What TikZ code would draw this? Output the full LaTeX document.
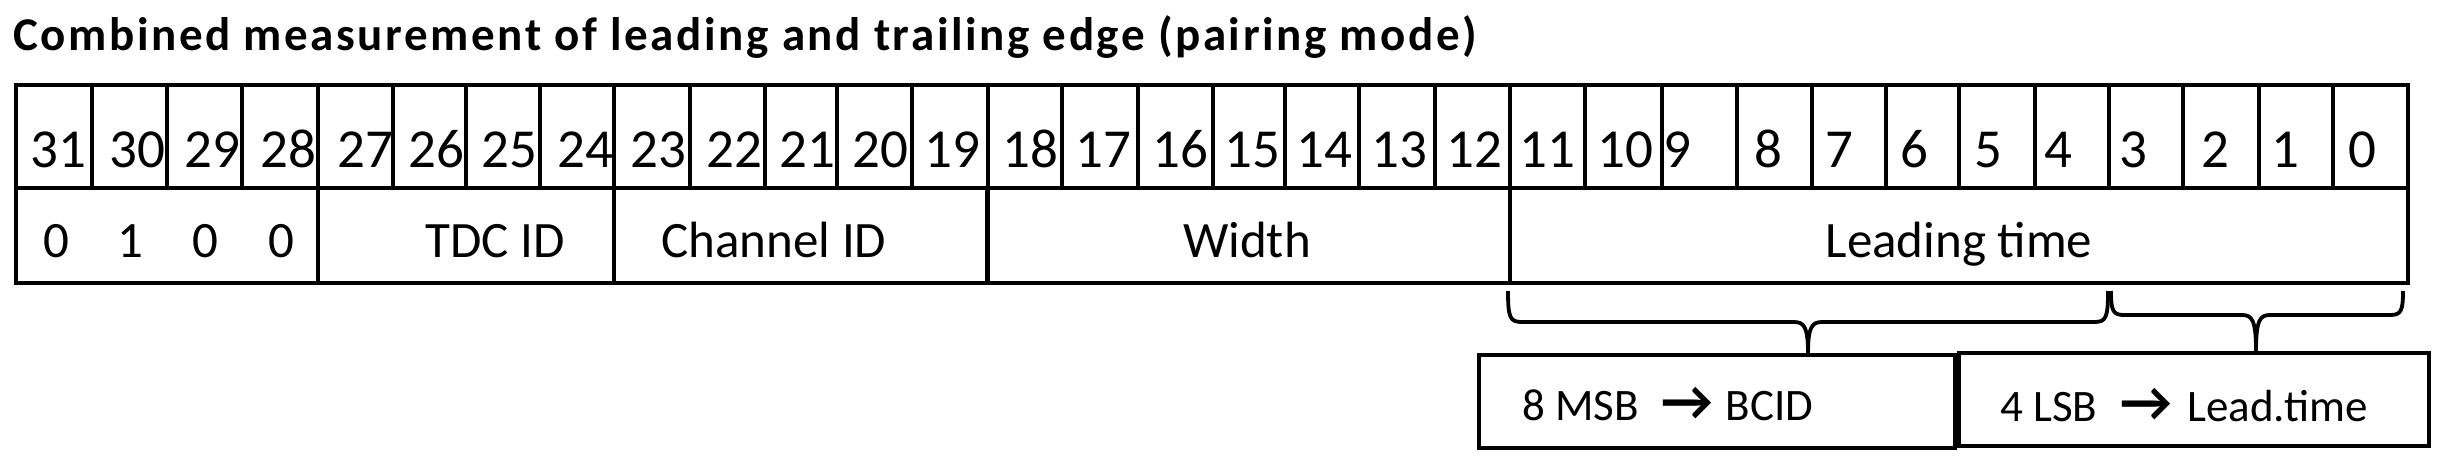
\documentclass[tikz,border=0pt]{standalone}
\usepackage{fontspec}
\setmainfont{Carlito}
\newfontfamily\titlefont[LetterSpace=5.5]{Carlito}
\newcommand{\arw}{{\fontsize{57}{60}\selectfont\bfseries →}}
\begin{document}
\begin{tikzpicture}[x=1pt,y=-1pt,
  cellbox/.style={draw, line width=4.5pt, inner sep=0pt, outer sep=0pt, minimum height=103pt},
  fieldbox/.style={draw, line width=4.5pt, inner sep=0pt, outer sep=0pt, minimum height=95pt},
  numtxt/.style={inner sep=0pt, anchor=base west, font=\fontsize{55}{60}\selectfont},
  fieldtxt/.style={inner sep=0pt, anchor=base, font=\fontsize{51}{56}\selectfont},
  boxtxt/.style={inner sep=0pt, anchor=base west, font=\fontsize{45}{50}\selectfont},
  outbox/.style={draw, line width=4.5pt, inner sep=0pt, outer sep=0pt, minimum height=93pt},
  bracepath/.style={draw, line width=3.8pt, line join=round}
]
\useasboundingbox (0,0) rectangle (2450,466);
\node[anchor=base west, inner sep=0pt, font=\titlefont\bfseries\fontsize{47}{52}\selectfont] (title) at (13,50) {Combined measurement of leading and trailing edge (pairing mode)};
% bit cells
\foreach \b/\l/\r/\o in {31/16/92/14, 30/92/167/17, 29/167/242/17, 28/242/318/18,
  27/318/393/19, 26/393/466/15, 25/466/540/15, 24/540/614/17,
  23/614/690/16, 22/690/765/16, 21/765/837/14, 20/837/912/15, 19/912/988/12,
  18/988/1062/14, 17/1062/1138/13, 16/1138/1213/14, 15/1213/1285/11, 14/1285/1359/11,
  13/1359/1435/12, 12/1435/1510/11, 11/1510/1585/9, 10/1585/1662/12, 9/1662/1737/1,
  8/1737/1812/17, 7/1812/1886/13, 6/1886/1959/14, 5/1959/2035/15, 4/2035/2109/9,
  3/2109/2183/10, 2/2183/2259/18, 1/2259/2333/12, 0/2333/2408/15}{
  \node[cellbox, minimum width={(\r-\l)*1pt}] (c\b) at ({(\l+\r)/2},136.5) {};
  \node[numtxt] (n\b) at (\l+\o,167) {\b};
}
% fields
\node[fieldbox, minimum width=302pt] (fA) at (167,235.5) {};
\node[fieldbox, minimum width=296pt] (fB) at (466,235.5) {};
\node[fieldbox, minimum width=373.5pt] (fC) at (800.75,235.5) {};
\node[fieldbox, minimum width=522.5pt] (fD) at (1248.75,235.5) {};
\node[fieldbox, minimum width=898pt] (fE) at (1959,235.5) {};
\node[fieldtxt] (v31) at (56,257) {0};
\node[fieldtxt] (v30) at (130,257) {1};
\node[fieldtxt] (v29) at (205,257) {0};
\node[fieldtxt] (v28) at (281,257) {0};
\node[fieldtxt] (tTDC) at (495,257) {TDC ID};
\node[fieldtxt] (tCh) at (774,257) {Channel ID};
\node[fieldtxt] (tW) at (1247,257) {Width};
\node[fieldtxt] (tL) at (1959,257) {Leading time};
% output boxes
\node[outbox, minimum width=476pt] (msb) at (1717,401.5) {};
\node[outbox, minimum width=470pt] (lsb) at (2194,399.5) {};
\node[boxtxt] (msbt) at (1522,420) {8 MSB\kern12pt\ \arw\ \kern3pt BCID};
\node[boxtxt] (lsbt) at (2000,421) {4 LSB\kern13pt\ \arw\ \kern5pt Lead.time};
% braces
\coordinate (tipL) at (1808,353);
\coordinate (tipR) at (2256,351);
\draw[bracepath] (1508,291) .. controls (1508,318) and (1510,322) .. (1522,322) -- (1794,322)
  .. controls (1804,322) and (1808,327) .. (tipL)
  .. controls (1808,327) and (1812,322) .. (1822,322) -- (2094,322)
  .. controls (2106,322) and (2108,318) .. (2108,291);
\draw[bracepath] (2111,291) .. controls (2111,311) and (2113,315) .. (2124,315) -- (2242,315)
  .. controls (2252,315) and (2256,320) .. (tipR)
  .. controls (2256,320) and (2260,315) .. (2270,315) -- (2390,315)
  .. controls (2401,315) and (2403,311) .. (2403,291);
\end{tikzpicture}
\end{document}
